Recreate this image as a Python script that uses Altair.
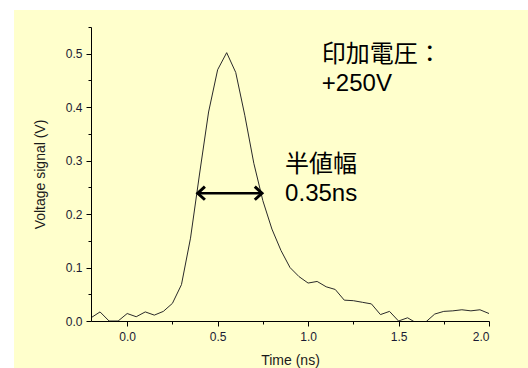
import altair as alt
import pandas as pd

# ---- data ----
time_ns = [-0.20, -0.15, -0.10, -0.05, 0.00, 0.05, 0.10, 0.15, 0.20, 0.25,
           0.30, 0.35, 0.40, 0.45, 0.50, 0.55, 0.60, 0.65, 0.70, 0.75,
           0.80, 0.85, 0.90, 0.95, 1.00, 1.05, 1.10, 1.15, 1.20, 1.25,
           1.30, 1.35, 1.40, 1.45, 1.50, 1.55, 1.60, 1.65, 1.70, 1.75,
           1.80, 1.85, 1.90, 1.95, 2.00]
voltage = [0.006, 0.017, 0.000, 0.000, 0.014, 0.008, 0.017, 0.011, 0.018, 0.033,
           0.068, 0.155, 0.275, 0.391, 0.470, 0.502, 0.465, 0.385, 0.295, 0.225,
           0.172, 0.132, 0.100, 0.083, 0.071, 0.074, 0.064, 0.059, 0.039, 0.038,
           0.035, 0.032, 0.012, 0.018, 0.000, 0.006, -0.004, -0.002, 0.013, 0.018,
           0.019, 0.021, 0.019, 0.021, 0.014]

x_major = [0.0, 0.5, 1.0, 1.5, 2.0]
x_minor = [0.25, 0.75, 1.25, 1.75]
y_major = [0.0, 0.1, 0.2, 0.3, 0.4, 0.5]
y_minor = [0.05, 0.15, 0.25, 0.35, 0.45, 0.55]

ann_text = ["印加電圧：", "+250V", "半値幅", "0.35ns"]
ann_x = [1.076, 1.076, 0.873, 0.873]
ann_y = [0.497, 0.443, 0.2925, 0.238]

arrow_x1 = [0.39]
arrow_x2 = [0.745]
arrow_y = [0.239]

df = pd.DataFrame({"t": time_ns, "v": voltage})
ann = pd.DataFrame({"text": ann_text, "x": ann_x, "y": ann_y})
arr = pd.DataFrame({"x1": arrow_x1, "x2": arrow_x2, "y": arrow_y})

W, H = 398, 294
PL, PT = 91, 27
xs = alt.Scale(domain=[-0.2, 2.0], nice=False, zero=False)
ys = alt.Scale(domain=[0, 0.55], nice=False, zero=False)

FONT = "Liberation Sans, Arial, sans-serif"
axis_style = dict(grid=False, domainColor="black", tickColor="black",
                  labelColor="#1a1a33", labelFont=FONT, labelFontSize=12,
                  titleFont=FONT, titleFontSize=14, titleFontWeight="normal",
                  titleColor="#1a1a1a", format=".1f", zindex=1)

bg = alt.Chart(alt.Data(values=[{}])).mark_rect(color="#FFFFCC").encode(
    x=alt.value(14 - PL), x2=alt.value(528 - PL),
    y=alt.value(10 - PT), y2=alt.value(368 - PT))

line = alt.Chart(df).mark_line(color="#2a2a2a", strokeWidth=1, clip=True).encode(
    x=alt.X("t:Q", scale=xs, axis=alt.Axis(values=x_major, title="Time (ns)",
            orient="bottom", tickSize=5, labelPadding=5, titlePadding=11, **axis_style)),
    y=alt.Y("v:Q", scale=ys, axis=alt.Axis(values=y_major, title="Voltage signal (V)",
            orient="left", tickSize=5, labelPadding=4, titlePadding=18, **axis_style)),
)

minor = alt.Chart(df).mark_line(opacity=0).encode(
    x=alt.X("t:Q", scale=xs, axis=alt.Axis(values=x_minor, labels=False, domain=False,
            title=None, orient="bottom", tickSize=3, tickColor="black", grid=False, zindex=1)),
    y=alt.Y("v:Q", scale=ys, axis=alt.Axis(values=y_minor, labels=False, domain=False,
            title=None, orient="left", tickSize=3, tickColor="black", grid=False, zindex=1)),
)

texts = alt.Chart(ann).mark_text(align="left", baseline="middle", fontSize=24,
                                  font="Liberation Sans, Noto Sans CJK JP, sans-serif",
                                  color="black").encode(
    x=alt.X("x:Q", scale=xs, axis=None),
    y=alt.Y("y:Q", scale=ys, axis=None),
    text="text:N")

shaft = alt.Chart(arr).mark_rule(color="black", strokeWidth=2.5).encode(
    x=alt.X("x1:Q", scale=xs, axis=None), x2="x2:Q",
    y=alt.Y("y:Q", scale=ys, axis=None))

head_l = alt.Chart(arr).mark_point(shape="M1.1,-1L0,0L1.1,1", filled=False, size=170,
                                   color="black", strokeWidth=3, opacity=1).encode(
    x=alt.X("x1:Q", scale=xs, axis=None), y=alt.Y("y:Q", scale=ys, axis=None))
head_r = alt.Chart(arr).mark_point(shape="M-1.1,-1L0,0L-1.1,1", filled=False, size=170,
                                   color="black", strokeWidth=3, opacity=1).encode(
    x=alt.X("x2:Q", scale=xs, axis=None), y=alt.Y("y:Q", scale=ys, axis=None))

chart = alt.layer(bg, minor, line, shaft, head_l, head_r, texts).resolve_axis(
    x="independent", y="independent").properties(
    width=W, height=H,
    padding={"left": PL, "top": PT, "right": 528 - PL - W, "bottom": 368 - PT - H},
    autosize=alt.AutoSizeParams(type="none"),
    background="white",
).configure_view(stroke=None)

chart.save("out.html", embed_options={"renderer": "svg", "actions": False})
